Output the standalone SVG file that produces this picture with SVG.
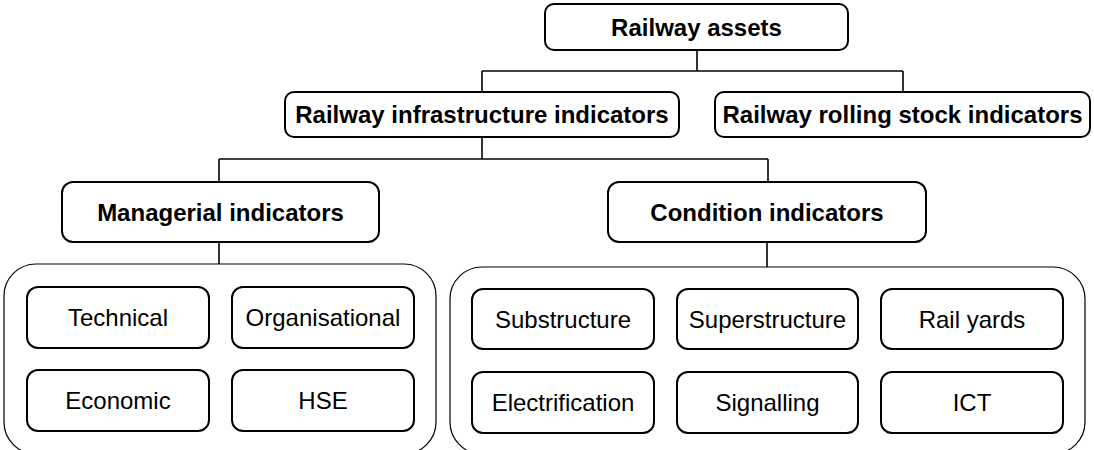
<svg xmlns="http://www.w3.org/2000/svg" width="1094" height="450" viewBox="0 0 1094 450">
<style>
.box{fill:#fff;stroke:#000;stroke-width:2}
.cont{fill:#fff;stroke:#000;stroke-width:1.2}
.b{font-family:"Liberation Sans",Arial,sans-serif;font-size:24px;font-weight:bold;text-anchor:middle;fill:#000}
.r{font-family:"Liberation Sans",Arial,sans-serif;font-size:24px;text-anchor:middle;fill:#000}
.c{fill:none;stroke:#000;stroke-width:1.6}
</style>
<rect width="1094" height="450" fill="#fff"/>
<g id="connectors">
<path class="c" d="M697 50V71M482 71H903M482 71V92M903 71V92"/>
<path class="c" d="M482 137V159M219 159H768M219 159V182M768 159V182"/>
<path class="c" d="M219 242V264M767 242V267"/>
</g>
<g id="managerial-group"><rect class="cont" x="4" y="264" width="432" height="190" rx="32"/></g>
<g id="condition-group"><rect class="cont" x="450" y="267" width="635" height="187" rx="32"/></g>
<g id="railway-assets"><rect class="box" x="545" y="4" width="303" height="46" rx="9"/><text class="b" x="696.5" y="35.5">Railway assets</text></g>
<g id="infrastructure"><rect class="box" x="285" y="92" width="394" height="45" rx="9"/><text class="b" x="482" y="123">Railway infrastructure indicators</text></g>
<g id="rolling-stock"><rect class="box" x="715" y="92" width="375" height="45" rx="9"/><text class="b" x="902.5" y="123">Railway rolling stock indicators</text></g>
<g id="managerial"><rect class="box" x="62" y="182" width="317" height="60" rx="11"/><text class="b" x="220.5" y="220.5">Managerial indicators</text></g>
<g id="condition"><rect class="box" x="608" y="182" width="318" height="60" rx="11"/><text class="b" x="767" y="220.5">Condition indicators</text></g>
<g id="technical"><rect class="box" x="27" y="287" width="182" height="61" rx="11"/><text class="r" x="118" y="326">Technical</text></g>
<g id="organisational"><rect class="box" x="232" y="287" width="182" height="61" rx="11"/><text class="r" x="323" y="326">Organisational</text></g>
<g id="economic"><rect class="box" x="27" y="370" width="182" height="61" rx="11"/><text class="r" x="118" y="409">Economic</text></g>
<g id="hse"><rect class="box" x="232" y="370" width="182" height="61" rx="11"/><text class="r" x="323" y="409">HSE</text></g>
<g id="substructure"><rect class="box" x="472" y="289" width="182" height="60" rx="11"/><text class="r" x="563" y="327.5">Substructure</text></g>
<g id="superstructure"><rect class="box" x="677" y="289" width="181" height="60" rx="11"/><text class="r" x="767.5" y="327.5">Superstructure</text></g>
<g id="rail-yards"><rect class="box" x="881" y="289" width="182" height="60" rx="11"/><text class="r" x="972" y="327.5">Rail yards</text></g>
<g id="electrification"><rect class="box" x="472" y="372" width="182" height="61" rx="11"/><text class="r" x="563" y="411">Electrification</text></g>
<g id="signalling"><rect class="box" x="677" y="372" width="181" height="61" rx="11"/><text class="r" x="767.5" y="411">Signalling</text></g>
<g id="ict"><rect class="box" x="881" y="372" width="182" height="61" rx="11"/><text class="r" x="972" y="411">ICT</text></g>
</svg>
